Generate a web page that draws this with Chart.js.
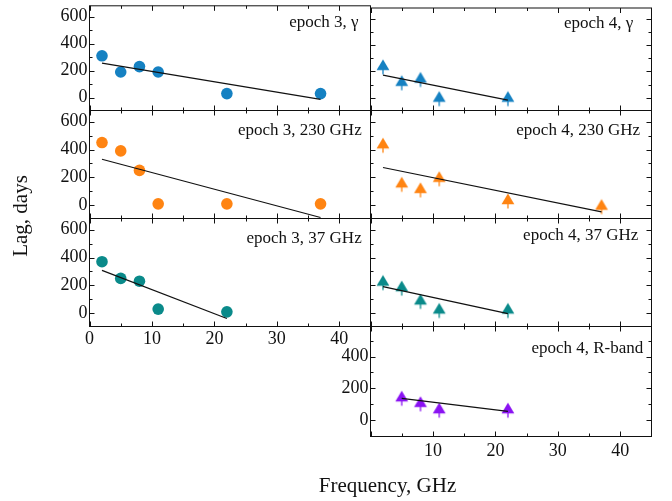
<!DOCTYPE html>
<html>
<head>
<meta charset="utf-8">
<script src="https://cdn.jsdelivr.net/npm/chart.js@4.4.1/dist/chart.umd.min.js"></script>
<style>
  body { margin: 0; background: #fff; }
  #wrap { position: relative; width: 672px; height: 501px; overflow: hidden; font-family: "Liberation Serif", serif; color: #111; }
  #wrap canvas { position: absolute; left: 0; top: 0; }
  .ttl { position: absolute; font-size: 17px; line-height: 20px; white-space: nowrap; text-align: right; }
  .axt { position: absolute; font-size: 21px; line-height: 24px; white-space: nowrap; text-align: center; }
</style>
</head>
<body>
<div id="wrap">
  <div class="axt" style="left:-39.6px; top:203.5px; width:120px; transform:rotate(-90deg);">Lag, days</div>
  <div class="axt" style="left:307.5px; top:473.4px; width:160px;">Frequency, GHz</div>
</div>
<script>
// lag vs frequency, epochs 3 and 4
const panelTitles = ['epoch 3, γ', 'epoch 3, 230 GHz', 'epoch 3, 37 GHz',
                     'epoch 4, γ', 'epoch 4, 230 GHz', 'epoch 4, 37 GHz', 'epoch 4, R-band'];

const xTickValues = [0, 10, 20, 30, 40];
const xMinorValues = [5, 15, 25, 35];
const yTickValues = [0, 200, 400, 600];
const yMinorValues = [100, 300, 500];
const xTicksRband = [10, 20, 30, 40];
const yTicksRband = [0, 200, 400];

const freq6 = [2, 5, 8, 11, 22, 37];
const freq5 = [2, 5, 8, 11, 22];
const freqR = [5, 8, 11, 22];

const lagEp3Gamma = [310, 190, 230, 190, 30, 30];
const lagEp3Mm    = [450, 390, 250, 10, 10, 10];
const lagEp3Cm    = [370, 250, 230, 30, 10];
const lagEp4Gamma = [250, 130, 155, 10, 10];
const lagEp4Mm    = [445, 165, 125, 205, 45, 5];
const lagEp4Cm    = [235, 195, 100, 35, 35];
const lagEp4R     = [150, 115, 75, 75];

// fitted lines, end points
const fitFreqEp3Gamma = [2, 37],  fitLagEp3Gamma = [256, -12];
const fitFreqEp3Mm    = [2, 37],  fitLagEp3Mm    = [330, -88];
const fitFreqEp3Cm    = [2, 22],  fitLagEp3Cm    = [308, -38];
const fitFreqEp4Gamma = [2, 22],  fitLagEp4Gamma = [172, -17];
const fitFreqEp4Mm    = [2, 37],  fitLagEp4Mm    = [271, -48];
const fitFreqEp4Cm    = [2, 22],  fitLagEp4Cm    = [191, -2];
const fitFreqEp4R     = [5, 22],  fitLagEp4R     = [137, 55];

const BLUE = '#1581c2', ORANGE = '#ff8412', TEAL = '#0a8a8a', PURPLE = '#8a12f2';

const colEdges = [89.5, 370.5, 651.5];
const rowEdges = [2.5, 110.5, 218.5, 326.5, 436.5];

function triangleMarker(color) {
  const c = document.createElement('canvas');
  c.width = 16; c.height = 30;
  const g = c.getContext('2d');
  g.fillStyle = color;
  g.beginPath();
  g.moveTo(8, 9.4);
  g.lineTo(14.4, 20.3);
  g.lineTo(1.6, 20.3);
  g.closePath();
  g.fill();
  g.fillRect(7.35, 19, 1.3, 5.5);
  return c;
}

const framePlugin = {
  id: 'frame',
  afterDraw(chart) {
    const { ctx, chartArea: a, scales: { x, y } } = chart;
    const o = chart.options.plugins.frame;
    ctx.save();
    ctx.strokeStyle = '#111';
    ctx.lineWidth = 1;
    ctx.strokeRect(a.left, a.top, a.right - a.left, a.bottom - a.top);
    ctx.beginPath();
    const xt = (v, len) => {
      const px = Math.round(x.getPixelForValue(v)) + 0.5;
      ctx.moveTo(px, a.bottom); ctx.lineTo(px, a.bottom - len);
      ctx.moveTo(px, a.top); ctx.lineTo(px, a.top + len);
    };
    const yt = (v, len) => {
      const py = Math.round(y.getPixelForValue(v)) + 0.5;
      ctx.moveTo(a.left, py); ctx.lineTo(a.left + len, py);
      if (o.rightTicks) { ctx.moveTo(a.right, py); ctx.lineTo(a.right - len, py); }
    };
    xTickValues.forEach(v => xt(v, 5));
    xMinorValues.forEach(v => xt(v, 3));
    o.yMajor.forEach(v => yt(v, 5));
    yMinorValues.forEach(v => yt(v, 3));
    ctx.stroke();
    ctx.restore();
  }
};

const panels = [
  { col: 0, row: 0, title: panelTitles[0], xs: freq6, ys: lagEp3Gamma, fx: fitFreqEp3Gamma, fy: fitLagEp3Gamma, color: BLUE,   tri: false, tr: 358.5, tb: 27.7 },
  { col: 0, row: 1, title: panelTitles[1], xs: freq6, ys: lagEp3Mm,    fx: fitFreqEp3Mm,    fy: fitLagEp3Mm,    color: ORANGE, tri: false, tr: 361.7, tb: 135.7 },
  { col: 0, row: 2, title: panelTitles[2], xs: freq5, ys: lagEp3Cm,    fx: fitFreqEp3Cm,    fy: fitLagEp3Cm,    color: TEAL,   tri: false, tr: 361.7, tb: 243.3, xLab: xTickValues, xPad: 1.7 },
  { col: 1, row: 0, title: panelTitles[3], xs: freq5, ys: lagEp4Gamma, fx: fitFreqEp4Gamma, fy: fitLagEp4Gamma, color: BLUE,   tri: true,  tr: 633.3, tb: 28.3 },
  { col: 1, row: 1, title: panelTitles[4], xs: freq6, ys: lagEp4Mm,    fx: fitFreqEp4Mm,    fy: fitLagEp4Mm,    color: ORANGE, tri: true,  tr: 640,   tb: 136 },
  { col: 1, row: 2, title: panelTitles[5], xs: freq5, ys: lagEp4Cm,    fx: fitFreqEp4Cm,    fy: fitLagEp4Cm,    color: TEAL,   tri: true,  tr: 638.3, tb: 240.7 },
  { col: 1, row: 3, title: panelTitles[6], xs: freqR, ys: lagEp4R,     fx: fitFreqEp4R,     fy: fitLagEp4R,     color: PURPLE, tri: true,  tr: 643.3, tb: 353.3, xLab: xTicksRband, xPad: 4.4, yLab: yTicksRband }
];

const wrap = document.getElementById('wrap');

function noEdgePadding(s) {
  s.paddingTop = 0; s.paddingBottom = 0; s.paddingLeft = 0; s.paddingRight = 0;
}

panels.forEach(p => {
  const canvas = document.createElement('canvas');
  canvas.width = 672; canvas.height = 501;
  wrap.insertBefore(canvas, wrap.firstChild);

  const left = colEdges[p.col], right = colEdges[p.col + 1];
  const top = rowEdges[p.row], bottom = rowEdges[p.row + 1];
  const yLab = p.yLab || (p.col === 0 ? yTickValues : null);
  const yW = yLab ? 40 : 0;
  const xH = p.xLab ? 30 : 0;
  const lastRow = p.row === 3;
  const tickFont = { family: '"Liberation Serif", serif', size: 18 };

  new Chart(canvas, {
    type: 'scatter',
    data: {
      datasets: [
        {
          data: p.fx.map((x, i) => ({ x: x, y: p.fy[i] })),
          showLine: true, borderColor: '#111', borderWidth: 1.2, pointRadius: 0
        },
        {
          data: p.xs.map((x, i) => ({ x: x, y: p.ys[i] })),
          backgroundColor: p.color, borderColor: p.color, borderWidth: 0,
          pointStyle: p.tri ? triangleMarker(p.color) : 'circle',
          pointRadius: p.tri ? 8 : 5.8
        }
      ]
    },
    options: {
      responsive: false,
      animation: false,
      devicePixelRatio: 1,
      layout: { padding: { left: left - yW, top: top, right: 672 - right, bottom: 501 - bottom - xH } },
      plugins: {
        legend: { display: false },
        tooltip: { enabled: false },
        frame: { rightTicks: p.col === 1, yMajor: lastRow ? yTicksRband : yTickValues }
      },
      scales: {
        x: {
          type: 'linear', min: 0, max: 45,
          grid: { display: false, drawTicks: false, tickLength: 0 }, border: { display: false },
          ticks: { display: !!p.xLab, font: tickFont, color: '#111', padding: p.xPad || 2, maxRotation: 0 },
          afterBuildTicks: s => { s.ticks = (p.xLab || xTickValues).map(v => ({ value: v })); },
          afterFit: s => { s.height = xH; noEdgePadding(s); }
        },
        y: {
          type: 'linear', min: lastRow ? -104 : -95, max: lastRow ? 590 : 680,
          grid: { display: false, drawTicks: false, tickLength: 0 }, border: { display: false },
          ticks: { display: !!yLab, font: tickFont, color: '#111', padding: 2 },
          afterBuildTicks: s => { s.ticks = (yLab || yTickValues).map(v => ({ value: v })); },
          afterFit: s => { s.width = yW; noEdgePadding(s); }
        }
      }
    },
    plugins: [framePlugin]
  });

  const t = document.createElement('div');
  t.className = 'ttl';
  t.textContent = p.title;
  t.style.right = (672 - p.tr) + 'px';
  t.style.top = (p.tb - 15.7) + 'px';
  wrap.appendChild(t);
});
</script>
</body>
</html>
